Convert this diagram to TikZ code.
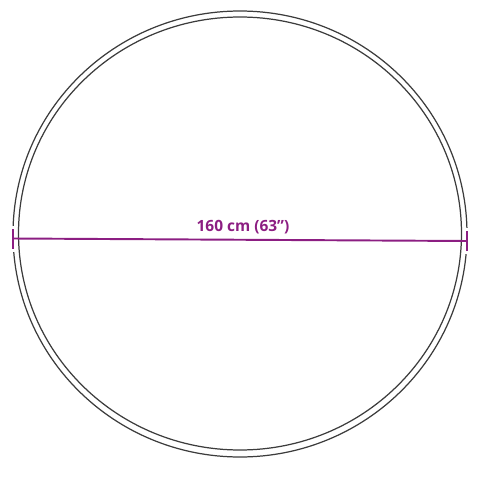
\documentclass[tikz,border=0pt]{standalone}
\usepackage{fontspec}
\setmainfont{Open Sans}
\usetikzlibrary{positioning}
\definecolor{dimpurple}{RGB}{140,30,130}
\definecolor{rimgray}{RGB}{60,60,60}

\begin{document}
\begin{tikzpicture}[rim/.style={draw=rimgray, line width=0.7pt},
                    dimline/.style={draw=dimpurple, line width=1.1pt}]
                \useasboundingbox (0,0) rectangle (9.6,9.6);
                \draw[rim] (4.8,4.92) ellipse (4.54 and 4.46);
                \draw[rim] (4.8,4.93) ellipse (4.43 and 4.33);
                \coordinate (L) at (0.26,4.83);
                \coordinate (R) at (9.34,4.78);
                \draw[white, line width=2.2pt] ([yshift=-0.26cm]L) -- ([yshift=0.26cm]L);
                \draw[white, line width=2.2pt] ([yshift=-0.26cm]R) -- ([yshift=0.26cm]R);
                \draw[dimline] (L) -- (R);
                \draw[dimline] ([yshift=-0.2cm]L) -- ([yshift=0.2cm]L);
                \draw[dimline] ([yshift=-0.2cm]R) -- ([yshift=0.2cm]R);
                \node[text=dimpurple, font=\bfseries\fontsize{8.8}{10}\selectfont] (len) at (4.86,5.06) {160 cm (63”)};
            \end{tikzpicture}
\end{document}
